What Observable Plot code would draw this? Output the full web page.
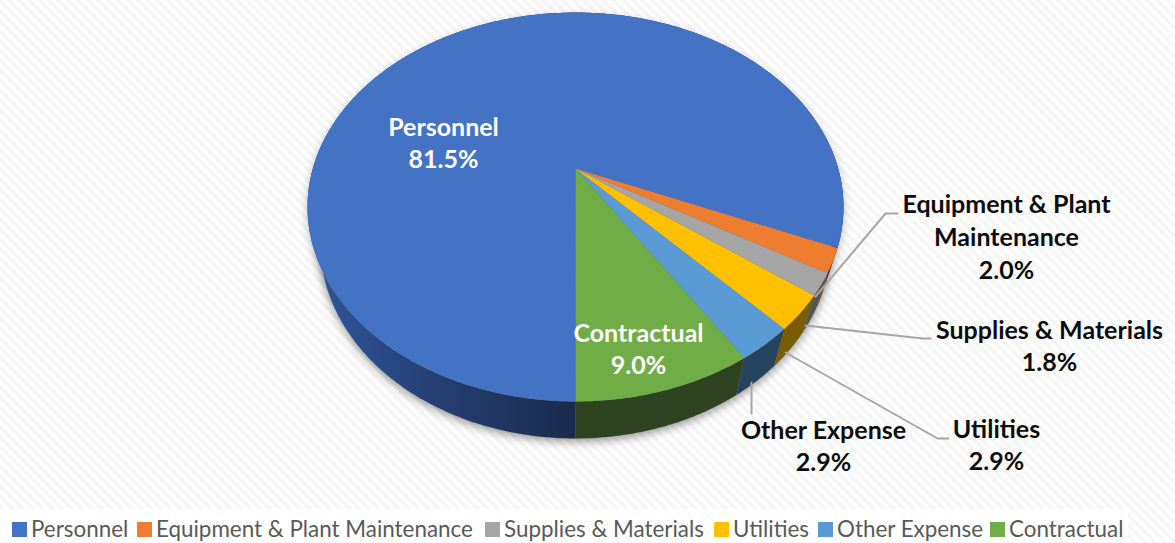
<!DOCTYPE html>
<html>
<head>
<meta charset="utf-8">
<script src="https://cdn.jsdelivr.net/npm/d3@7"></script>
<script src="https://cdn.jsdelivr.net/npm/@observablehq/plot@0.6"></script>
<style>
  html, body { margin: 0; padding: 0; }
  body {
    width: 1175px; height: 543px; overflow: hidden; position: relative;
    font-family: Lato, sans-serif;
    background: repeating-linear-gradient(45deg, #ffffff 0 3.5px, #f6f6f6 3.5px 7px);
  }
  .pie-shadow { filter: blur(5px); }
  #legend {
    position: absolute; left: 0; top: 509px; width: 1128px; height: 34px;
    background: #fff; color: #595959; font-size: 22.4px; line-height: 34px;
    white-space: nowrap;
  }
  #legend .item { position: absolute; top: 0; display: flex; align-items: center; }
  #legend .sw { width: 15px; height: 15px; margin-right: 4px; margin-top: 6px; }
  #legend .tx { position: relative; top: 3px; }
</style>
</head>
<body>
<div id="chart"></div>
<div id="legend"></div>
<script>
// ---- data ----
const categories = ["Personnel", "Equipment & Plant Maintenance", "Supplies & Materials", "Utilities", "Other Expense", "Contractual"];
const shares = [81.5, 2.0, 1.8, 2.9, 2.9, 9.0];
const topColors = ["#4472C4", "#ED7D31", "#A5A5A5", "#FFC000", "#5B9BD5", "#70AD47"];
const wallColors = ["url(#personnelWall)", "#7a3f14", "#545454", "#7a5c00", "#264460", "#2e4420"];
const labelNames = ["Personnel", "Equipment & Plant\nMaintenance", "Supplies & Materials", "Utilities", "Other Expense", "Contractual"];
const labelColors = ["white", "#0d0d0d", "#0d0d0d", "#0d0d0d", "#0d0d0d", "white"];
const labelX = [443, 1006, 1049, 996, 823, 638];
const labelY = [141, 235, 344, 443, 444, 347];
const legendLeft = [12, 137, 485, 714, 818, 990];
const leaders = [
  {id: "Equipment", xs: [815, 885, 897], ys: [296, 213, 213]},
  {id: "Supplies", xs: [805, 922, 930], ys: [325, 338, 338]},
  {id: "Utilities", xs: [785, 937, 948], ys: [352, 438, 438]},
  {id: "Other", xs: [751, 751], ys: [382, 413]}
];

// ---- perspective projection of the tilted disc onto the page ----
const cx = 575, apexY = 168, rimA = 262.7, rimB = 153.6, tilt = -0.198;
const wallDrop = 37, wallShrink = 0.952;
function rim(theta) {           // theta: angle from the front of the disc, toward the right
  const u = Math.sin(theta), v = Math.cos(theta), w = 1 + tilt * v;
  return [cx + rimA * u / w, (rimB * v + apexY) / w];
}
function lower(theta) {
  const [x, y] = rim(theta);
  return [cx + wallShrink * (x - cx), y + wallDrop];
}
function arcPoints(f, a0, a1) {
  const n = Math.max(2, Math.ceil(Math.abs(a1 - a0) / 0.01));
  return d3.range(n + 1).map(i => f(a0 + (a1 - a0) * i / n));
}

// slices run from the front of the disc counter-clockwise on the page, last category first
const total = d3.sum(shares);
let acc = 0;
const slices = categories.map((c, i) => ({i, c})).reverse().map(s => {
  const a0 = acc / total * 2 * Math.PI;
  acc += shares[s.i];
  return {...s, a0, a1: acc / total * 2 * Math.PI};
});

const faceRows = slices.flatMap(s =>
  [[cx, apexY], ...arcPoints(rim, s.a0, s.a1)].map(([x, y]) => ({c: s.c, x, y})));
const wallRows = s =>
  [...arcPoints(rim, s.a0, s.a1), ...arcPoints(lower, s.a1, s.a0)].map(([x, y]) => ({x, y}));
const outline = f => arcPoints(f, 0, 2 * Math.PI).map(([x, y]) => ({x, y}));

const labels = categories.map((c, i) => ({
  text: `${labelNames[i]}\n${shares[i].toFixed(1)}%`, x: labelX[i], y: labelY[i], fill: labelColors[i]
}));
const leaderRows = leaders.flatMap(l => l.xs.map((x, i) => ({id: l.id, x, y: l.ys[i]})));

const gradient = () => {
  const svg = d3.create("svg:defs");
  const g = svg.append("linearGradient").attr("id", "personnelWall")
    .attr("gradientUnits", "userSpaceOnUse").attr("x1", 320).attr("x2", 575).attr("y1", 0).attr("y2", 0);
  g.append("stop").attr("offset", 0).attr("stop-color", "#2f5597");
  g.append("stop").attr("offset", 0.55).attr("stop-color", "#233b6c");
  g.append("stop").attr("offset", 1).attr("stop-color", "#1a2a4c");
  return svg.node();
};

const plot = Plot.plot({
  width: 1175, height: 509,
  margin: 0,
  style: {background: "transparent", fontFamily: "Lato, sans-serif"},
  x: {domain: [0, 1175], range: [0, 1175], axis: null},
  y: {domain: [0, 509], range: [0, 509], axis: null},
  color: {domain: categories, range: topColors},
  marks: [
    gradient,
    Plot.line(outline(lower), {x: "x", y: "y", fill: "#000", fillOpacity: 0.42, stroke: null, dy: 3, className: "pie-shadow"}),
    Plot.line(outline(rim), {x: "x", y: "y", fill: "#000", fillOpacity: 0.25, stroke: null, dy: 3, className: "pie-shadow"}),
    ...slices.map(s => Plot.line(wallRows(s), {x: "x", y: "y", fill: wallColors[s.i], stroke: null})),
    Plot.line(faceRows, {x: "x", y: "y", z: "c", fill: "c", stroke: null}),
    Plot.line(leaderRows, {x: "x", y: "y", z: "id", stroke: "#a6a6a6", strokeWidth: 2}),
    Plot.text(labels, {
      x: "x", y: "y", text: "text", fill: d => d.fill,
      fontSize: 25, fontWeight: "bold", lineHeight: 1.31, textAnchor: "middle", lineAnchor: "middle"
    })
  ]
});
document.getElementById("chart").append(plot);

const legend = d3.select("#legend");
categories.forEach((c, i) => {
  const item = legend.append("div").attr("class", "item").style("left", legendLeft[i] + "px");
  item.append("div").attr("class", "sw").style("background", topColors[i]);
  item.append("div").attr("class", "tx").text(c);
});
</script>
</body>
</html>
